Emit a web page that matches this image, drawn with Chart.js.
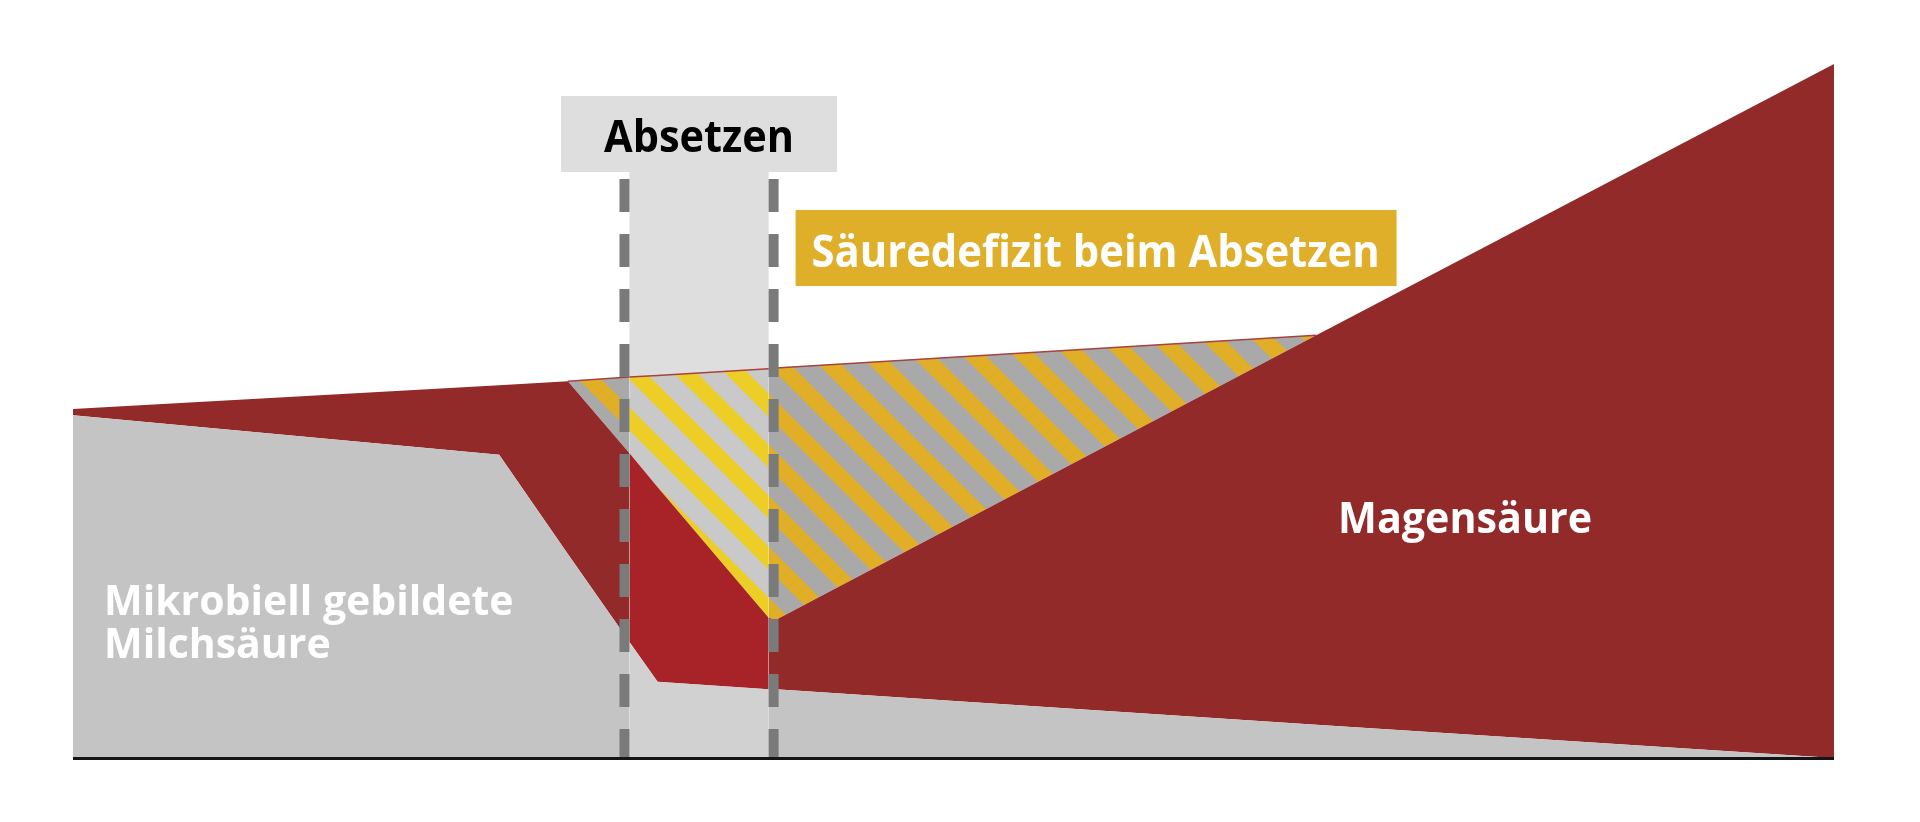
<!DOCTYPE html>
<html lang="de">
<head>
<meta charset="utf-8">
<title>Säuredefizit beim Absetzen</title>
<script src="https://cdn.jsdelivr.net/npm/chart.js@4.4.1/dist/chart.umd.min.js"></script>
<style>
  html, body { margin: 0; padding: 0; background: #fff; }
</style>
</head>
<body>
<canvas id="chart" width="1920" height="822"></canvas>
<script>
// relative Zeitachse (0 = links, 100 = rechts)
var zeitpunkte = [0, 24.2, 28.1, 31.6, 33.2, 39.5, 39.9, 70.6, 100];
// Oberkante mikrobiell gebildete Milchsaeure
var milchsaeure = [49.4, 43.7, 29.4, 16.7, 11.0, 9.9, 9.9, 4.8, 0];
// Oberkante Magensaeure (liegt auf der Milchsaeure)
var magensaeure = [50.3, 53.7, 54.3, 43.9, 39.0, 20.2, 19.9, 60.9, 100];
// Saeurebedarf = obere Grenze des Defizits
var saeurebedarf = [null, null, 54.3, 54.9, 55.1, 56.1, 56.2, 60.9, null];

// Absetzphase auf der Zeitachse
var absetzenVon = 31.6;
var absetzenBis = 39.5;

function punkte(werte) {
  var out = [];
  for (var i = 0; i < zeitpunkte.length; i++) {
    if (werte[i] !== null) {
      out.push({ x: zeitpunkte[i], y: werte[i] });
    }
  }
  return out;
}

function imAbsetzen(ctx) {
  return ctx.p0.parsed.x >= absetzenVon - 0.01 && ctx.p1.parsed.x <= absetzenBis + 0.01;
}

// diagonale Schraffur (gelb/grau)
function streifenMuster(gelb, grau) {
  var p = 51;
  var c = document.createElement('canvas');
  c.width = p;
  c.height = p;
  var g = c.getContext('2d');
  g.fillStyle = grau;
  g.fillRect(0, 0, p, p);
  g.fillStyle = gelb;
  for (var k = -2; k <= 1; k++) {
    g.beginPath();
    g.moveTo(46 + k * p, 0);
    g.lineTo(69 + k * p, 0);
    g.lineTo(69 + k * p + p, p);
    g.lineTo(46 + k * p + p, p);
    g.closePath();
    g.fill();
  }
  return g.createPattern(c, 'repeat');
}

var musterAussen = streifenMuster('#e1ae28', '#a9a9a9');
var musterInnen = streifenMuster('#edce27', '#c9c9c9');

var absetzenPlugin = {
  id: 'absetzen',
  beforeDatasetsDraw: function(chart) {
    var c = chart.ctx;
    var a = chart.chartArea;
    var x1 = chart.scales.x.getPixelForValue(absetzenVon);
    var x2 = chart.scales.x.getPixelForValue(absetzenBis);
    c.save();
    c.fillStyle = '#dedede';
    c.fillRect(x1, a.top + 107, x2 - x1, a.bottom - a.top - 107);
    c.restore();
  },
  afterDatasetsDraw: function(chart) {
    var c = chart.ctx;
    var a = chart.chartArea;
    var xs = chart.scales.x;
    var ys = chart.scales.y;
    var x1 = xs.getPixelForValue(absetzenVon);
    var x2 = xs.getPixelForValue(absetzenBis);

    c.save();
    // gestrichelte Linien
    c.strokeStyle = '#7a7a7a';
    c.lineWidth = 10;
    c.setLineDash([33, 22]);
    [x1 - 5, x2 + 5].forEach(function(x) {
      c.beginPath();
      c.moveTo(x, a.top + 115);
      c.lineTo(x, a.bottom);
      c.stroke();
    });
    c.setLineDash([]);

    // Beschriftungen in den Flaechen
    c.fillStyle = '#fff';
    c.textBaseline = 'alphabetic';
    c.font = 'bold 41px "Open Sans"';
    c.textAlign = 'left';
    var lx = xs.getPixelForValue(1.76);
    var ly = ys.getPixelForValue(20.6);
    c.fillText('Mikrobiell gebildete', lx, ly, 420);
    c.fillText('Milchsäure', lx, ly + 43, 420);

    c.font = 'bold 43px "Open Sans"';
    c.textAlign = 'center';
    c.fillText('Magensäure', xs.getPixelForValue(79.05), ys.getPixelForValue(32.4), 254);

    // Achse
    c.strokeStyle = '#151515';
    c.lineWidth = 3;
    c.beginPath();
    c.moveTo(a.left, a.bottom + 0.5);
    c.lineTo(a.right, a.bottom + 0.5);
    c.stroke();
    c.restore();
  },
  afterDraw: function(chart) {
    var c = chart.ctx;
    var a = chart.chartArea;
    var x1 = chart.scales.x.getPixelForValue(absetzenVon);
    var x2 = chart.scales.x.getPixelForValue(absetzenBis);
    var mitte = (x1 + x2) / 2;

    c.save();
    // Kasten "Absetzen"
    c.fillStyle = '#dedede';
    c.fillRect(mitte - 138, a.top + 32, 276, 76);
    c.fillStyle = '#000';
    c.font = 'bold 45px "Open Sans"';
    c.textAlign = 'center';
    c.textBaseline = 'alphabetic';
    c.fillText('Absetzen', mitte, a.top + 88, 190);

    // Kasten "Saeuredefizit"
    var bx = x2 + 27;
    c.fillStyle = '#e0af2a';
    c.fillRect(bx, a.top + 146, 601, 76);
    c.fillStyle = '#fff';
    c.fillText('Säuredefizit beim Absetzen', bx + 300, a.top + 203, 568);
    c.restore();
  }
};

var ctx = document.getElementById('chart').getContext('2d');
Chart.defaults.font.family = '"Open Sans", sans-serif';

new Chart(ctx, {
  type: 'line',
  data: {
    datasets: [{
      label: 'Mikrobiell gebildete Milchsäure',
      data: punkte(milchsaeure),
      fill: 'origin',
      backgroundColor: '#c4c4c4',
      borderColor: 'transparent',
      borderWidth: 0,
      segment: {
        backgroundColor: function(c) { return imAbsetzen(c) ? '#d1d1d1' : undefined; }
      }
    }, {
      label: 'Magensäure',
      data: punkte(magensaeure),
      fill: '-1',
      backgroundColor: '#922a29',
      borderColor: 'transparent',
      borderWidth: 0,
      segment: {
        backgroundColor: function(c) { return imAbsetzen(c) ? '#a82327' : undefined; }
      }
    }, {
      label: 'Säuredefizit',
      data: punkte(saeurebedarf),
      fill: '-1',
      backgroundColor: musterAussen,
      borderColor: '#a5433f',
      borderWidth: 1.5,
      segment: {
        backgroundColor: function(c) { return imAbsetzen(c) ? musterInnen : undefined; }
      }
    }]
  },
  options: {
    responsive: false,
    devicePixelRatio: 1,
    animation: false,
    layout: { padding: { left: 73, right: 86, top: 64, bottom: 64 } },
    elements: {
      point: { radius: 0, hoverRadius: 0 },
      line: { tension: 0 }
    },
    scales: {
      x: { type: 'linear', min: 0, max: 100, display: false },
      y: { min: 0, max: 100, display: false }
    },
    plugins: {
      legend: { display: false },
      tooltip: { enabled: false }
    }
  },
  plugins: [absetzenPlugin]
});
</script>
</body>
</html>
